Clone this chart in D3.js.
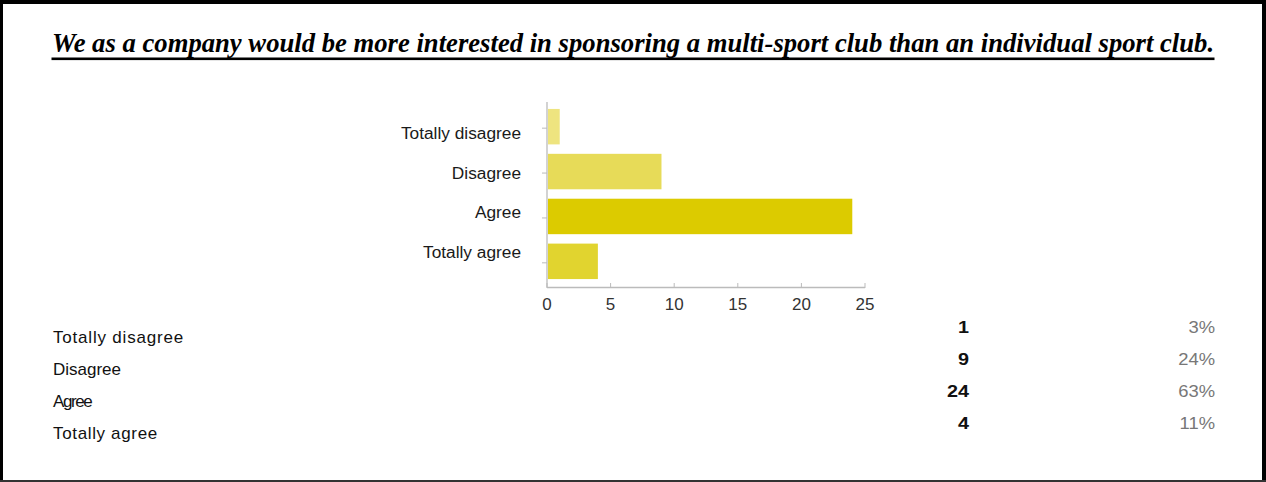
<!DOCTYPE html>
<html>
<head>
<meta charset="utf-8">
<script src="https://cdn.jsdelivr.net/npm/d3@7"></script>
<style>
  html, body { margin: 0; padding: 0; background: #fff; }
  svg { display: block; }
</style>
</head>
<body>
<svg id="chart" width="1266" height="482"></svg>
<script>
// Survey answers and response counts
const categories = ["Totally disagree", "Disagree", "Agree", "Totally agree"];
const counts = [1, 9, 24, 4];
const percents = ["3%", "24%", "63%", "11%"];
const barColors = ["#eee47f", "#e7db58", "#dccb00", "#e1d42f"];
const xTicks = [0, 5, 10, 15, 20, 25];
const title = "We as a company would be more interested in sponsoring a multi-sport club than an individual sport club.";

const svg = d3.select("#chart");
const W = 1266, H = 482;
const SANS = "Arial, 'Liberation Sans', sans-serif";

// Frame
svg.append("rect").attr("x", 0).attr("y", 0).attr("width", W).attr("height", H).attr("fill", "#000");
svg.append("rect").attr("x", 3).attr("y", 4).attr("width", W - 7).attr("height", H - 6).attr("fill", "#fff");
svg.append("rect").attr("x", 0).attr("y", H - 2).attr("width", W).attr("height", 2).attr("fill", "#333");

// Title, bold italic serif, fitted to its line, underlined
const titleW = 1163;
const t = svg.append("text")
  .attr("x", 633).attr("y", 52)
  .attr("text-anchor", "middle")
  .style("font-family", "'Liberation Serif', 'Times New Roman', serif")
  .style("font-weight", "bold").style("font-style", "italic")
  .style("font-size", "24px").attr("fill", "#000")
  .text(title);
const len = t.node().getComputedTextLength();
t.style("font-size", (24 * titleW / len) + "px");
svg.append("rect").attr("x", 633 - titleW / 2).attr("y", 57.5).attr("width", titleW).attr("height", 2.6).attr("fill", "#000");

// Bar chart scales
const x = d3.scaleLinear().domain([0, 25]).range([547, 865]);
const y = d3.scaleBand().domain(categories).range([104, 284]).paddingInner(0.21).paddingOuter(0.11);
// category labels sit on their own, slightly tighter, spacing
const yLab = d3.scalePoint().domain(categories).range([133, 252]);

const g = svg.append("g");
g.selectAll("rect.bar").data(categories).join("rect")
  .attr("class", "bar")
  .attr("x", x(0) + 1)
  .attr("y", d => y(d))
  .attr("width", (d, i) => x(counts[i]) - x(0) - 1)
  .attr("height", y.bandwidth())
  .attr("fill", (d, i) => barColors[i]);

// Vertical axis
g.append("line").attr("x1", x(0)).attr("x2", x(0)).attr("y1", 102).attr("y2", 287.5)
  .attr("stroke", "#bbb").attr("stroke-width", 1.3);
g.selectAll("line.ytick").data(categories).join("line")
  .attr("class", "ytick")
  .attr("x1", x(0) - 5).attr("x2", x(0))
  .attr("y1", d => y(d) + y.bandwidth() / 2 + 1.5)
  .attr("y2", d => y(d) + y.bandwidth() / 2 + 1.5)
  .attr("stroke", "#bbb");
g.selectAll("text.ylab").data(categories).join("text")
  .attr("class", "ylab")
  .attr("x", 521)
  .attr("y", d => yLab(d) + 6)
  .attr("text-anchor", "end")
  .style("font-family", SANS)
  .style("font-size", "17.3px").attr("fill", "#1a1a1a")
  .text(d => d);

// Horizontal axis
g.append("line").attr("x1", x(0)).attr("x2", x(25)).attr("y1", 287.5).attr("y2", 287.5)
  .attr("stroke", "#bbb").attr("stroke-width", 1.3);
g.selectAll("line.xtick").data(xTicks).join("line")
  .attr("class", "xtick")
  .attr("x1", d => x(d)).attr("x2", d => x(d))
  .attr("y1", 283).attr("y2", 288)
  .attr("stroke", "#bbb");
g.selectAll("text.xlab").data(xTicks).join("text")
  .attr("class", "xlab")
  .attr("x", d => x(d))
  .attr("y", 309.5)
  .attr("text-anchor", "middle")
  .style("font-family", SANS)
  .style("font-size", "17px").attr("fill", "#333")
  .text(d => d);

// Summary table
const rowY = i => 327 + i * 32;
const nameSpacing = [0.8, 0, -1.4, 0.65];
const tbl = svg.append("g");
tbl.selectAll("text.name").data(categories).join("text")
  .attr("class", "name")
  .attr("x", 53).attr("y", (d, i) => rowY(i) + 16)
  .style("font-family", SANS)
  .style("font-size", "17px").attr("fill", "#111")
  .style("letter-spacing", (d, i) => nameSpacing[i] + "px")
  .text(d => d);
tbl.selectAll("g.count").data(counts).join("g")
  .attr("class", "count")
  .attr("transform", (d, i) => `translate(969,${rowY(i) + 6}) scale(1.2,1)`)
  .append("text")
  .attr("text-anchor", "end")
  .style("font-family", SANS)
  .style("font-weight", "bold")
  .style("font-size", "16.5px").attr("fill", "#111")
  .text(d => d);
tbl.selectAll("g.pct").data(percents).join("g")
  .attr("class", "pct")
  .attr("transform", (d, i) => `translate(1215,${rowY(i) + 6}) scale(1.15,1)`)
  .append("text")
  .attr("text-anchor", "end")
  .style("font-family", SANS)
  .style("font-size", "16px").attr("fill", "#777")
  .text(d => d);
</script>
</body>
</html>
